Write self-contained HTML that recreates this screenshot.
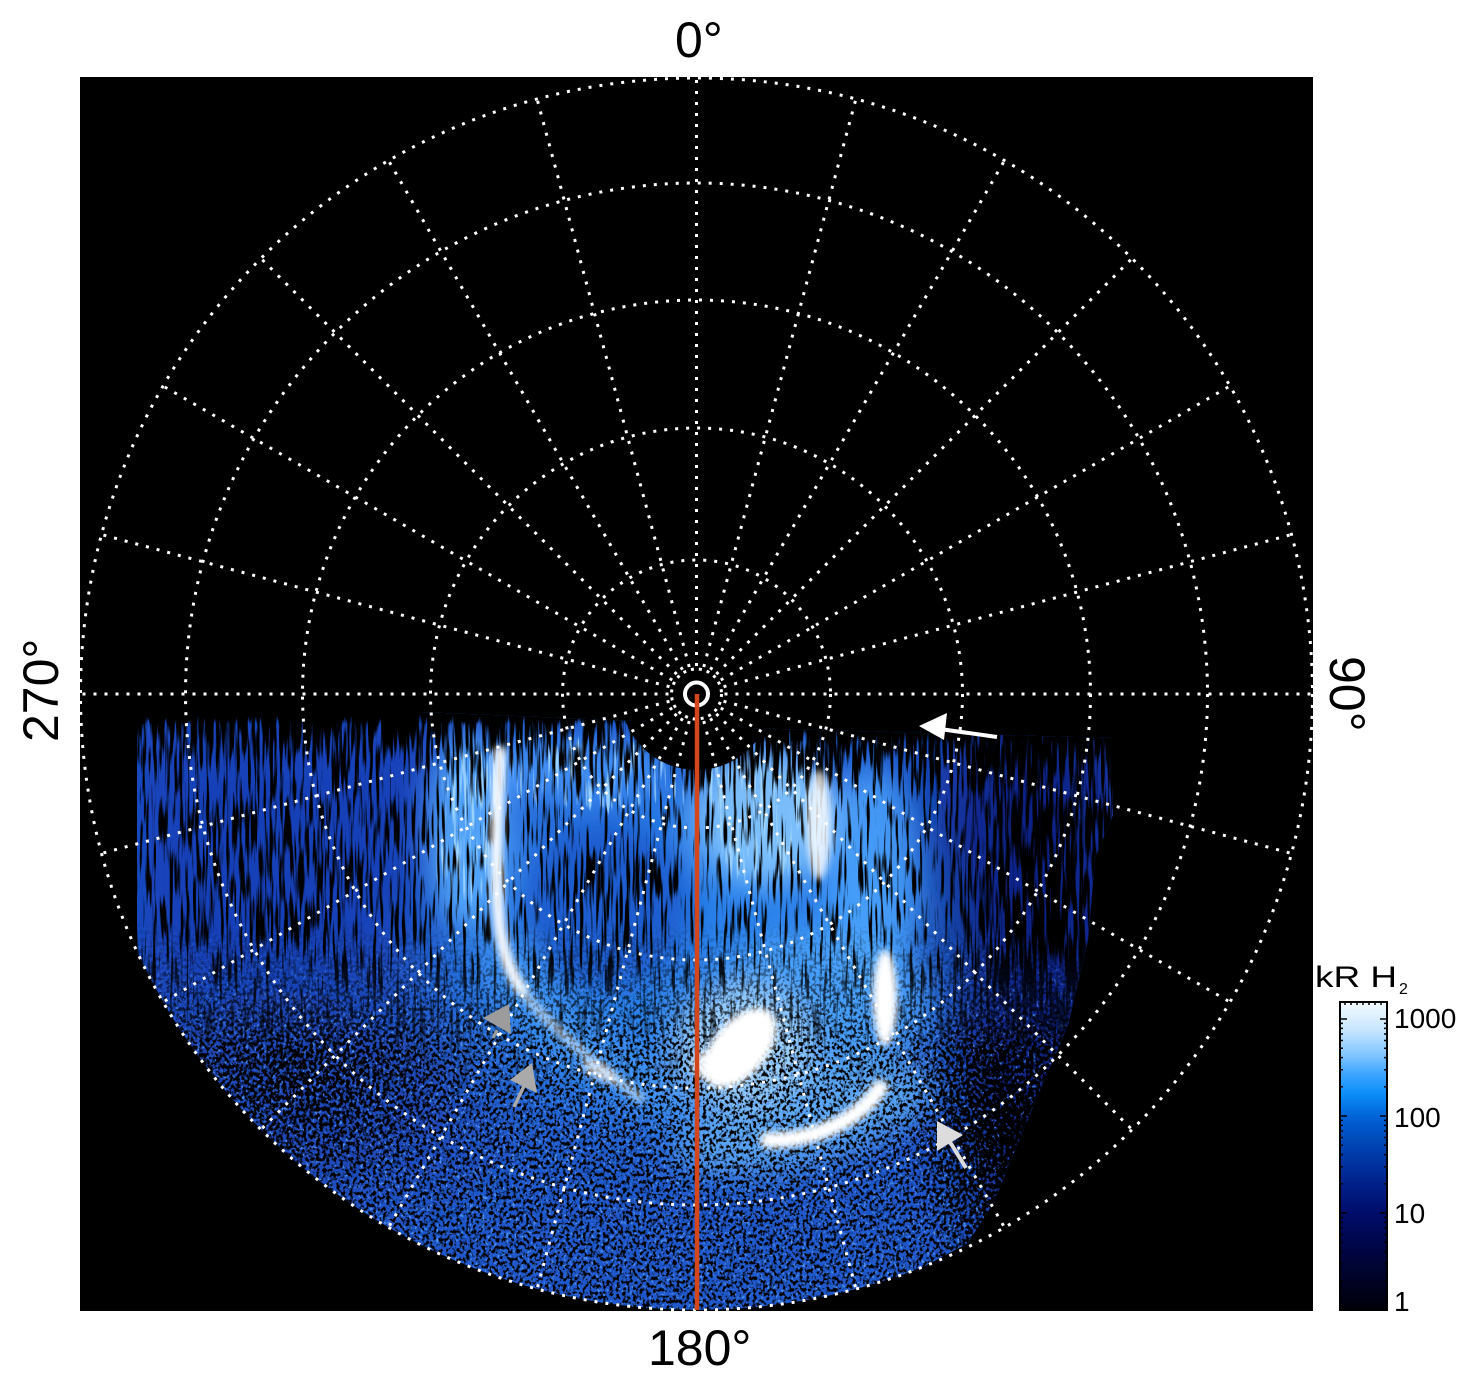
<!DOCTYPE html>
<html><head><meta charset="utf-8"><style>html,body{margin:0;padding:0;background:#fff}svg{display:block}</style></head>
<body>
<svg xmlns="http://www.w3.org/2000/svg" width="1481" height="1386" viewBox="0 0 1481 1386">
<defs>
  <clipPath id="dc"><path d="M137,712 L420,712 L660,722 L745,728 L1000,735 L1113,738 L1113,815 L1095,858 L1088,940 L1068,1025 L1038,1095 L1015,1150 L995,1200 L968,1243 L925,1266 A616,616 0 0 1 137,951 Z"/></clipPath>
  <filter id="b40" filterUnits="userSpaceOnUse" x="0" y="600" width="1481" height="786"><feGaussianBlur stdDeviation="40"/></filter>
  <filter id="b15" filterUnits="userSpaceOnUse" x="0" y="600" width="1481" height="786"><feGaussianBlur stdDeviation="15"/></filter>
  <filter id="b3" filterUnits="userSpaceOnUse" x="0" y="600" width="1481" height="786"><feGaussianBlur stdDeviation="3.5"/></filter>
  <filter id="fUp" filterUnits="userSpaceOnUse" x="120" y="700" width="1010" height="420" color-interpolation-filters="sRGB">
    <feTurbulence type="fractalNoise" baseFrequency="0.3 0.02" numOctaves="2" seed="11" result="t"/>
    <feColorMatrix in="t" type="matrix" values="0 0 0 0 0  0 0 0 0 0  0 0 0 0 0  1 0 0 0 0" result="a"/>
    <feComposite in="SourceGraphic" in2="a" operator="arithmetic" k1="0" k2="6" k3="6" k4="-6"/>
  </filter>
  <filter id="fLs" filterUnits="userSpaceOnUse" x="120" y="700" width="1010" height="420" color-interpolation-filters="sRGB">
    <feTurbulence type="fractalNoise" baseFrequency="0.3 0.018" numOctaves="2" seed="47" result="t"/>
    <feColorMatrix in="t" type="matrix" values="0 0 0 0 0  0 0 0 0 0  0 0 0 0 0  1 0 0 0 0" result="a"/>
    <feComposite in="SourceGraphic" in2="a" operator="arithmetic" k1="0" k2="6" k3="6" k4="-6" result="m"/>
    <feFlood flood-color="#9ad2ff"/>
    <feComposite in2="m" operator="in"/>
  </filter>
  <filter id="fLo" filterUnits="userSpaceOnUse" x="120" y="880" width="1010" height="440" color-interpolation-filters="sRGB">
    <feTurbulence type="fractalNoise" baseFrequency="0.3 0.26" numOctaves="2" seed="5" result="t"/>
    <feColorMatrix in="t" type="matrix" values="0 0 0 0 0  0 0 0 0 0  0 0 0 0 0  1 0 0 0 0" result="a"/>
    <feComposite in="SourceGraphic" in2="a" operator="arithmetic" k1="0" k2="6" k3="6" k4="-6"/>
  </filter>
  <filter id="fLt" filterUnits="userSpaceOnUse" x="120" y="880" width="1010" height="440" color-interpolation-filters="sRGB">
    <feTurbulence type="fractalNoise" baseFrequency="0.33 0.28" numOctaves="2" seed="29" result="t"/>
    <feColorMatrix in="t" type="matrix" values="0 0 0 0 0  0 0 0 0 0  0 0 0 0 0  1 0 0 0 0" result="a"/>
    <feComposite in="SourceGraphic" in2="a" operator="arithmetic" k1="0" k2="6" k3="6" k4="-6" result="m"/>
    <feFlood flood-color="#4f92f0"/>
    <feComposite in2="m" operator="in"/>
  </filter>
  <linearGradient id="gmUp" gradientUnits="userSpaceOnUse" x1="0" y1="950" x2="0" y2="1100">
    <stop offset="0" stop-color="#fff"/><stop offset="1" stop-color="#000"/>
  </linearGradient>
  <linearGradient id="gmLo" gradientUnits="userSpaceOnUse" x1="0" y1="920" x2="0" y2="1050">
    <stop offset="0" stop-color="#000"/><stop offset="1" stop-color="#fff"/>
  </linearGradient>
  <mask id="mUp" maskUnits="userSpaceOnUse" x="0" y="600" width="1481" height="786"><rect x="0" y="600" width="1481" height="786" fill="url(#gmUp)"/></mask>
  <mask id="mLo" maskUnits="userSpaceOnUse" x="0" y="600" width="1481" height="786"><rect x="0" y="600" width="1481" height="786" fill="url(#gmLo)"/></mask>
  <linearGradient id="bandL" gradientUnits="userSpaceOnUse" x1="0" y1="700" x2="0" y2="780">
    <stop offset="0" stop-color="#000" stop-opacity="1"/>
    <stop offset="0.15" stop-color="#000" stop-opacity="1"/>
    <stop offset="0.31" stop-color="#000" stop-opacity="0.45"/>
    <stop offset="0.94" stop-color="#000" stop-opacity="0"/>
  </linearGradient>
  <linearGradient id="bandR" gradientUnits="userSpaceOnUse" x1="0" y1="700" x2="0" y2="800">
    <stop offset="0" stop-color="#000" stop-opacity="1"/>
    <stop offset="0.25" stop-color="#000" stop-opacity="1"/>
    <stop offset="0.43" stop-color="#000" stop-opacity="0.45"/>
    <stop offset="0.92" stop-color="#000" stop-opacity="0"/>
  </linearGradient>
  <radialGradient id="rdark" cx="0.5" cy="0.5" r="0.5">
    <stop offset="0" stop-color="#000" stop-opacity="0.5"/>
    <stop offset="1" stop-color="#000" stop-opacity="0"/>
  </radialGradient>
  <radialGradient id="rdark2" cx="0.5" cy="0.5" r="0.5">
    <stop offset="0" stop-color="#000" stop-opacity="0.25"/>
    <stop offset="1" stop-color="#000" stop-opacity="0"/>
  </radialGradient>
  <radialGradient id="rlight" cx="0.5" cy="0.5" r="0.5">
    <stop offset="0" stop-color="#000" stop-opacity="0.5"/>
    <stop offset="0.6" stop-color="#000" stop-opacity="0.42"/>
    <stop offset="1" stop-color="#000" stop-opacity="0"/>
  </radialGradient>
  <linearGradient id="cb" x1="0" y1="0" x2="0" y2="1">
    <stop offset="0" stop-color="#f4faff"/>
    <stop offset="0.09" stop-color="#c8e6ff"/>
    <stop offset="0.172" stop-color="#80c6ff"/>
    <stop offset="0.237" stop-color="#3aa4ff"/>
    <stop offset="0.302" stop-color="#0a8cf8"/>
    <stop offset="0.37" stop-color="#0064d8"/>
    <stop offset="0.464" stop-color="#0044b4"/>
    <stop offset="0.578" stop-color="#00248e"/>
    <stop offset="0.685" stop-color="#000c6a"/>
    <stop offset="0.805" stop-color="#000544"/>
    <stop offset="1" stop-color="#000008"/>
  </linearGradient>
</defs>

<rect x="0" y="0" width="1481" height="1386" fill="#fff"/>
<rect x="80" y="77" width="1233" height="1234" fill="#000"/>

<!-- aurora data -->
<g clip-path="url(#dc)">
  <rect x="120" y="700" width="1010" height="620" fill="#1f58cc"/>
  <g filter="url(#b40)">
    <path d="M120,700 L455,700 L462,800 L430,940 L330,1010 L120,1010Z" fill="#1640b8"/>
    <path d="M945,700 L1130,700 L1130,1300 L990,1260 L960,1010 L935,900Z" fill="#0a2488"/>
    <ellipse cx="300" cy="1100" rx="190" ry="110" fill="#1a46b8"/>
    <ellipse cx="680" cy="950" rx="230" ry="175" fill="#2a80ea"/>
  </g>
  <g filter="url(#b15)">
    <ellipse cx="605" cy="905" rx="85" ry="85" fill="#1a54c8" opacity="0.8"/>
    <ellipse cx="468" cy="830" rx="42" ry="100" fill="#5aaeff" opacity="0.85"/>
    <ellipse cx="560" cy="768" rx="110" ry="30" fill="#4a9cff" opacity="0.75"/>
    <ellipse cx="765" cy="815" rx="72" ry="70" fill="#88caff" opacity="0.85"/>
    <ellipse cx="872" cy="880" rx="45" ry="115" fill="#4ea6ff" opacity="0.8"/>
    <ellipse cx="820" cy="1005" rx="110" ry="75" fill="#50aaff" opacity="0.75"/>
    <path d="M498,940 C530,1020 600,1080 700,1100" stroke="#4aa2ff" stroke-width="45" fill="none" opacity="0.7"/>
    <ellipse cx="805" cy="1118" rx="135" ry="45" transform="rotate(-15 805 1118)" fill="#6cbcff" opacity="0.75"/>
    <ellipse cx="742" cy="1045" rx="70" ry="60" fill="#b4e0ff" opacity="0.8"/>
  </g>
  <g filter="url(#fLs)">
    <ellipse cx="600" cy="775" rx="170" ry="50" fill="url(#rlight)"/>
    <ellipse cx="765" cy="820" rx="85" ry="95" fill="url(#rlight)"/>
    <ellipse cx="465" cy="830" rx="45" ry="115" fill="url(#rlight)"/>
  </g>
  <g mask="url(#mLo)">
    <rect x="120" y="880" width="1010" height="440" fill="#000" fill-opacity="0.42" filter="url(#fLt)"/>
  </g>
  <g mask="url(#mUp)">
    <g filter="url(#fUp)">
      <rect x="120" y="700" width="1010" height="420" fill="#000" fill-opacity="0.46"/>
      <rect x="120" y="700" width="560" height="80" fill="url(#bandL)"/>
      <rect x="680" y="700" width="450" height="100" fill="url(#bandR)"/>
      <ellipse cx="1050" cy="900" rx="120" ry="260" fill="url(#rdark)"/>
      <ellipse cx="280" cy="860" rx="180" ry="160" fill="url(#rdark2)"/>
      <ellipse cx="605" cy="910" rx="90" ry="90" fill="url(#rdark2)"/>
    </g>
  </g>
  <g mask="url(#mLo)">
    <g filter="url(#fLo)">
      <rect x="120" y="880" width="1010" height="440" fill="#000" fill-opacity="0.53"/>
      <ellipse cx="1010" cy="1130" rx="100" ry="170" fill="url(#rdark)"/>
      <ellipse cx="300" cy="1080" rx="170" ry="110" fill="url(#rdark2)"/>
    </g>
  </g>
  <g filter="url(#b3)" fill="#fff">
    <path d="M500,752 C497,820 494,880 500,930 C505,960 512,975 522,990" stroke="#fff" stroke-width="12" fill="none" stroke-linecap="round" opacity="0.95"/>
    <path d="M520,988 C540,1015 570,1045 640,1098" stroke="#e6f4ff" stroke-width="10" fill="none" stroke-linecap="round" opacity="0.55"/>
    <ellipse cx="740" cy="1048" rx="47" ry="27" transform="rotate(-50 740 1048)"/>
    <ellipse cx="712" cy="1065" rx="20" ry="15" opacity="0.85"/>
    <path d="M768,1140 C805,1142 855,1125 880,1088" stroke="#fff" stroke-width="16" fill="none" stroke-linecap="round"/>
    <ellipse cx="885" cy="998" rx="12" ry="48"/>
    <ellipse cx="819" cy="825" rx="12" ry="55" opacity="0.8"/>
    <ellipse cx="600" cy="1072" rx="20" ry="8" transform="rotate(25 600 1072)" opacity="0.6"/>
  </g>
  <circle cx="696.5" cy="694" r="76" fill="#000"/>
</g>

<!-- grid -->
<g fill="none" stroke="#fff" stroke-width="3" stroke-dasharray="3 8">
  <circle cx="696.5" cy="694" r="616"/>
  <circle cx="696.5" cy="694" r="511"/>
  <circle cx="696.5" cy="694" r="394"/>
  <circle cx="696.5" cy="694" r="266"/>
  <circle cx="696.5" cy="694" r="134"/>
</g>
<circle cx="696.5" cy="694" r="25" fill="none" stroke="#fff" stroke-width="3" stroke-dasharray="3 5"/>
<g transform="translate(696.5,694)" stroke="#fff" stroke-width="3" stroke-dasharray="3 8">
  <line x1="0" y1="-28" x2="0" y2="-616" transform="rotate(0)"/>
  <line x1="0" y1="-28" x2="0" y2="-616" transform="rotate(15)"/>
  <line x1="0" y1="-28" x2="0" y2="-616" transform="rotate(30)"/>
  <line x1="0" y1="-28" x2="0" y2="-616" transform="rotate(45)"/>
  <line x1="0" y1="-28" x2="0" y2="-616" transform="rotate(60)"/>
  <line x1="0" y1="-28" x2="0" y2="-616" transform="rotate(75)"/>
  <line x1="0" y1="-28" x2="0" y2="-616" transform="rotate(90)"/>
  <line x1="0" y1="-28" x2="0" y2="-616" transform="rotate(105)"/>
  <line x1="0" y1="-28" x2="0" y2="-616" transform="rotate(120)"/>
  <line x1="0" y1="-28" x2="0" y2="-616" transform="rotate(135)"/>
  <line x1="0" y1="-28" x2="0" y2="-616" transform="rotate(150)"/>
  <line x1="0" y1="-28" x2="0" y2="-616" transform="rotate(165)"/>
  <line x1="0" y1="-28" x2="0" y2="-616" transform="rotate(180)"/>
  <line x1="0" y1="-28" x2="0" y2="-616" transform="rotate(195)"/>
  <line x1="0" y1="-28" x2="0" y2="-616" transform="rotate(210)"/>
  <line x1="0" y1="-28" x2="0" y2="-616" transform="rotate(225)"/>
  <line x1="0" y1="-28" x2="0" y2="-616" transform="rotate(240)"/>
  <line x1="0" y1="-28" x2="0" y2="-616" transform="rotate(255)"/>
  <line x1="0" y1="-28" x2="0" y2="-616" transform="rotate(270)"/>
  <line x1="0" y1="-28" x2="0" y2="-616" transform="rotate(285)"/>
  <line x1="0" y1="-28" x2="0" y2="-616" transform="rotate(300)"/>
  <line x1="0" y1="-28" x2="0" y2="-616" transform="rotate(315)"/>
  <line x1="0" y1="-28" x2="0" y2="-616" transform="rotate(330)"/>
  <line x1="0" y1="-28" x2="0" y2="-616" transform="rotate(345)"/>
</g>
<circle cx="696.5" cy="694" r="11.5" fill="none" stroke="#fff" stroke-width="4"/>
<line x1="697" y1="694" x2="697" y2="1310" stroke="#d4461c" stroke-width="4.5"/>

<!-- arrows -->
<g>
  <line x1="940" y1="729" x2="997" y2="737" stroke="#fff" stroke-width="4"/>
  <polygon points="919,726 947,713 944,740" fill="#fff"/>
  <polygon points="483,1018 509,1004 511,1034" fill="#9c9c9c"/>
  <line x1="497" y1="1030" x2="493" y2="1038" stroke="#9c9c9c" stroke-width="3"/>
  <line x1="524" y1="1086" x2="514" y2="1107" stroke="#aaaaaa" stroke-width="3.5"/>
  <polygon points="510,1080 532,1063 537,1093" fill="#aaaaaa"/>
  <line x1="950" y1="1142" x2="966" y2="1168" stroke="#dcdcdc" stroke-width="4"/>
  <polygon points="937,1121 937,1151 963,1135" fill="#dcdcdc"/>
</g>

<!-- axis labels -->
<g font-family="'Liberation Sans', Arial, sans-serif" fill="#000" font-size="50">
  <text x="675" y="57">0°</text>
  <text x="648" y="1365">180°</text>
  <text transform="translate(58,742) rotate(-90)">270°</text>
  <text transform="translate(1330,656) rotate(90)">90°</text>
</g>

<!-- colorbar -->
<rect x="1340" y="1002" width="47" height="308" fill="url(#cb)" stroke="#000" stroke-width="2"/>
<g stroke="#000" stroke-width="1.5">
  <line x1="1340" y1="1019" x2="1347" y2="1019"/><line x1="1387" y1="1019" x2="1380" y2="1019"/>
  <line x1="1340" y1="1116" x2="1347" y2="1116"/><line x1="1387" y1="1116" x2="1380" y2="1116"/>
  <line x1="1340" y1="1213" x2="1347" y2="1213"/><line x1="1387" y1="1213" x2="1380" y2="1213"/>
  <path d="M1340,1280.8h3M1340,1263.7h3M1340,1251.6h3M1340,1242.2h3M1340,1234.5h3M1340,1228h3M1340,1222.4h3M1340,1217.4h3
           M1340,1183.8h3M1340,1166.7h3M1340,1154.6h3M1340,1145.2h3M1340,1137.5h3M1340,1131h3M1340,1125.4h3M1340,1120.4h3
           M1340,1086.8h3M1340,1069.7h3M1340,1057.6h3M1340,1048.2h3M1340,1040.5h3M1340,1034h3M1340,1028.4h3M1340,1023.4h3
           M1387,1280.8h-3M1387,1263.7h-3M1387,1251.6h-3M1387,1242.2h-3M1387,1234.5h-3M1387,1228h-3M1387,1222.4h-3M1387,1217.4h-3
           M1387,1183.8h-3M1387,1166.7h-3M1387,1154.6h-3M1387,1145.2h-3M1387,1137.5h-3M1387,1131h-3M1387,1125.4h-3M1387,1120.4h-3
           M1387,1086.8h-3M1387,1069.7h-3M1387,1057.6h-3M1387,1048.2h-3M1387,1040.5h-3M1387,1034h-3M1387,1028.4h-3M1387,1023.4h-3
           M1345,1002v3M1351,1002v3M1357,1002v3M1363,1002v3M1369,1002v3M1375,1002v3M1381,1002v3" fill="none"/>
</g>
<g font-family="'Liberation Sans', Arial, sans-serif" fill="#000" font-size="28">
  <text x="1394" y="1028">1000</text>
  <text x="1394" y="1127">100</text>
  <text x="1394" y="1223">10</text>
  <text x="1394" y="1311">1</text>
</g>
<g font-family="'Liberation Sans', Arial, sans-serif" fill="#000">
  <text x="1315" y="987" font-size="30" textLength="82" lengthAdjust="spacingAndGlyphs">kR H</text>
  <text x="1399" y="994" font-size="16">2</text>
</g>
</svg>
</body></html>
